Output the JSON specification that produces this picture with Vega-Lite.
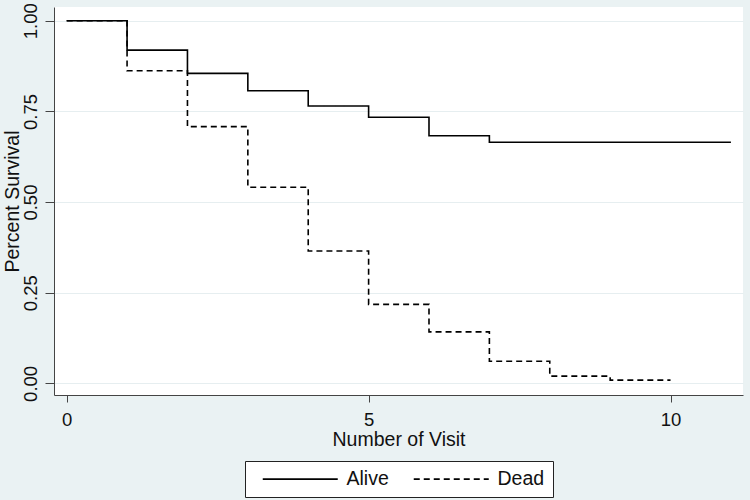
{
  "$schema": "https://vega.github.io/schema/vega-lite/v6.json",
  "autosize": {"type": "none"},
  "width": 689,
  "height": 388,
  "padding": {"left": 54, "top": 7, "right": 7, "bottom": 105},
  "background": "#EAF2F3",
  "config": {
    "font": "Liberation Sans",
    "view": {"fill": "white", "stroke": null},
    "axis": {
      "domainColor": "#444",
      "tickColor": "#444",
      "labelFontSize": 18.5,
      "labelColor": "#111",
      "titleFontSize": 19.5,
      "titleFontWeight": "normal",
      "titleColor": "#111"
    },
    "legend": {
      "labelFontSize": 19.5,
      "labelColor": "#111",
      "layout": {"bottom": {"anchor": "middle"}}
    }
  },
  "data": {
    "values": [
      {"group": "Alive", "visit": 0, "survival": 1.0},
      {"group": "Alive", "visit": 1, "survival": 0.919},
      {"group": "Alive", "visit": 2, "survival": 0.855},
      {"group": "Alive", "visit": 3, "survival": 0.807},
      {"group": "Alive", "visit": 4, "survival": 0.765},
      {"group": "Alive", "visit": 5, "survival": 0.734},
      {"group": "Alive", "visit": 6, "survival": 0.683},
      {"group": "Alive", "visit": 7, "survival": 0.665},
      {"group": "Alive", "visit": 11, "survival": 0.665},
      {"group": "Dead", "visit": 0, "survival": 1.0},
      {"group": "Dead", "visit": 1, "survival": 0.862},
      {"group": "Dead", "visit": 2, "survival": 0.708},
      {"group": "Dead", "visit": 3, "survival": 0.541},
      {"group": "Dead", "visit": 4, "survival": 0.365},
      {"group": "Dead", "visit": 5, "survival": 0.218},
      {"group": "Dead", "visit": 6, "survival": 0.142},
      {"group": "Dead", "visit": 7, "survival": 0.061},
      {"group": "Dead", "visit": 8, "survival": 0.02},
      {"group": "Dead", "visit": 9, "survival": 0.009},
      {"group": "Dead", "visit": 10, "survival": 0.009}
    ]
  },
  "mark": {"type": "line", "interpolate": "step-after", "color": "black", "strokeWidth": 1.6},
  "encoding": {
    "x": {
      "field": "visit",
      "type": "quantitative",
      "scale": {"domain": [-0.21, 11.2], "nice": false, "zero": false},
      "axis": {
        "title": "Number of Visit",
        "values": [0, 5, 10],
        "grid": false,
        "tickSize": 7,
        "labelPadding": 8,
        "titlePadding": 2
      }
    },
    "y": {
      "field": "survival",
      "type": "quantitative",
      "scale": {"domain": [-0.032, 1.038], "nice": false, "zero": false},
      "axis": {
        "title": "Percent Survival",
        "values": [0, 0.25, 0.5, 0.75, 1],
        "format": ".2f",
        "labelAngle": -90,
        "tickSize": 9,
        "labelPadding": 5,
        "titlePadding": -1,
        "grid": true,
        "gridColor": "#E6EEF0",
        "gridWidth": 1.2
      }
    },
    "strokeDash": {
      "field": "group",
      "type": "nominal",
      "scale": {"domain": ["Alive", "Dead"], "range": [[1, 0], [6, 4]]},
      "legend": {
        "title": null,
        "orient": "bottom",
        "direction": "horizontal",
        "symbolType": "M0,0H75",
        "symbolSize": 4,
        "symbolStrokeWidth": 1.6,
        "symbolStrokeColor": "black",
        "labelOffset": 74,
        "columnPadding": 15,
        "strokeColor": "#222",
        "fillColor": "white",
        "padding": 8,
        "offset": 12
      }
    }
  }
}
